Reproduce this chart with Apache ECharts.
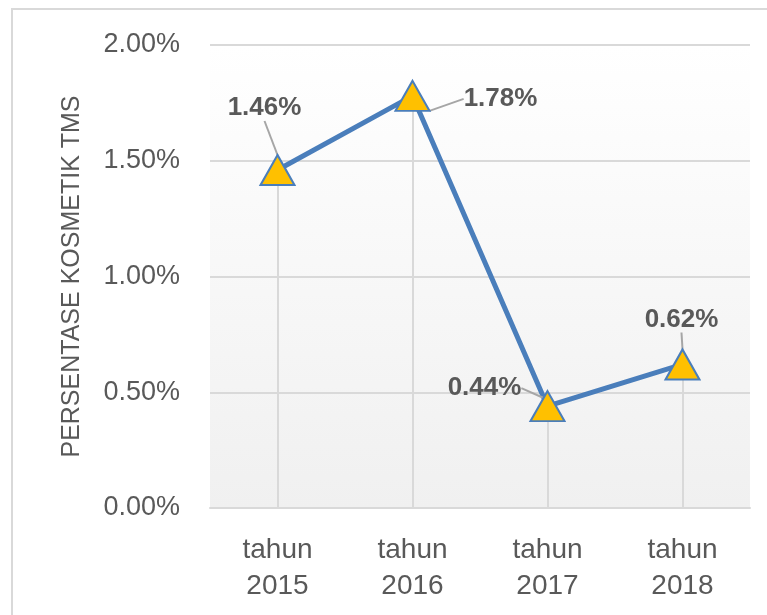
<!DOCTYPE html>
<html>
<head>
<meta charset="utf-8">
<script src="https://cdn.jsdelivr.net/npm/echarts@6/dist/echarts.min.js"></script>
<style>
  html, body { margin: 0; padding: 0; background: #fff; }
  #chart { width: 767px; height: 615px; }
</style>
</head>
<body>
<div id="chart"></div>
<script>
const categories = ['tahun\n2015', 'tahun\n2016', 'tahun\n2017', 'tahun\n2018'];
const persentase = [1.46, 1.78, 0.44, 0.62];
const yTicks = { min: 0, max: 2, interval: 0.5 };

// label offsets from each point (dx, dy), picked by eye
const labelOffsets = [[-13, -62], [88, 3], [-63, -18], [-1, -45]];

const chart = echarts.init(document.getElementById('chart'));

chart.setOption({
  animation: false,
  textStyle: { fontFamily: 'Liberation Sans' },
  graphic: [{
    type: 'rect',
    shape: { x: 12, y: 9, width: 800, height: 700 },
    style: { fill: 'none', stroke: '#d9d9d9', lineWidth: 2 },
    silent: true
  }],
  grid: {
    left: 210,
    right: 17,
    top: 45,
    bottom: 107,
    show: true,
    borderWidth: 0,
    backgroundColor: new echarts.graphic.LinearGradient(0, 0, 0, 1, [
      { offset: 0, color: '#ffffff' },
      { offset: 1, color: '#f0f0f0' }
    ])
  },
  xAxis: {
    type: 'category',
    data: categories,
    axisLine: { lineStyle: { color: '#d9d9d9', width: 2 } },
    axisTick: { show: false },
    axisLabel: {
      color: '#595959',
      fontSize: 28,
      lineHeight: 36,
      margin: 24
    }
  },
  yAxis: {
    type: 'value',
    min: yTicks.min,
    max: yTicks.max,
    interval: yTicks.interval,
    name: 'PERSENTASE KOSMETIK TMS',
    nameLocation: 'middle',
    nameGap: 125,
    nameTextStyle: { color: '#595959', fontSize: 25 },
    axisLine: { show: false },
    axisTick: { show: false },
    axisLabel: {
      color: '#595959',
      fontSize: 27,
      margin: 30,
      formatter: v => v.toFixed(2) + '%'
    },
    splitLine: { lineStyle: { color: '#d9d9d9', width: 2 } }
  },
  series: [{
    type: 'line',
    data: persentase,
    symbol: 'triangle',
    symbolSize: [34, 30],
    lineStyle: { color: '#4a7ebb', width: 5 },
    itemStyle: { color: '#ffc000', borderColor: '#4a7ebb', borderWidth: 2 },
    label: {
      show: true,
      position: 'inside',
      color: '#595959',
      fontSize: 26,
      fontWeight: 'bold',
      formatter: p => p.value.toFixed(2) + '%'
    },
    labelLine: {
      show: true,
      lineStyle: { color: '#a6a6a6', width: 2 }
    },
    labelLayout: p => ({
      dx: labelOffsets[p.dataIndex][0],
      dy: labelOffsets[p.dataIndex][1]
    }),
    markLine: {
      silent: true,
      symbol: 'none',
      label: { show: false },
      lineStyle: { color: '#d9d9d9', width: 2, type: 'solid' },
      z: 1,
      data: categories.map((c, i) => [
        { coord: [i, persentase[i]] },
        { coord: [i, 0] }
      ])
    },
    emphasis: { disabled: true },
    z: 3
  }]
});
</script>
</body>
</html>
